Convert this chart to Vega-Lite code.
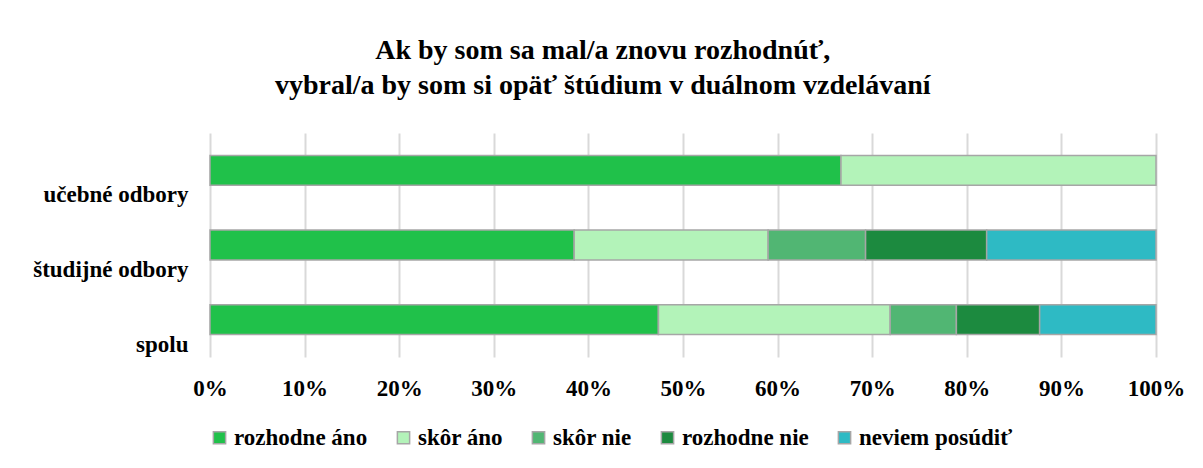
{
  "$schema": "https://vega.github.io/schema/vega-lite/v6.json",
  "width": 946,
  "height": 224,
  "autosize": {"type": "none"},
  "padding": {"left": 210, "top": 133, "right": 47, "bottom": 111},
  "background": "white",
  "title": {
    "text": ["Ak by som sa mal/a znovu rozhodnúť,", "vybral/a by som si opäť štúdium v duálnom vzdelávaní"],
    "font": "Liberation Serif",
    "fontSize": 28,
    "fontWeight": "bold",
    "lineHeight": 35,
    "color": "#000000",
    "anchor": "middle",
    "frame": "bounds",
    "offset": 33,
    "dx": -6
  },
  "data": {
    "values": [
      {"skupina": "učebné odbory", "odpoveď": "rozhodne áno", "poradie": 1, "podiel": 66.7},
      {"skupina": "učebné odbory", "odpoveď": "skôr áno", "poradie": 2, "podiel": 33.3},
      {"skupina": "študijné odbory", "odpoveď": "rozhodne áno", "poradie": 1, "podiel": 38.5},
      {"skupina": "študijné odbory", "odpoveď": "skôr áno", "poradie": 2, "podiel": 20.5},
      {"skupina": "študijné odbory", "odpoveď": "skôr nie", "poradie": 3, "podiel": 10.3},
      {"skupina": "študijné odbory", "odpoveď": "rozhodne nie", "poradie": 4, "podiel": 12.8},
      {"skupina": "študijné odbory", "odpoveď": "neviem posúdiť", "poradie": 5, "podiel": 17.9},
      {"skupina": "spolu", "odpoveď": "rozhodne áno", "poradie": 1, "podiel": 47.4},
      {"skupina": "spolu", "odpoveď": "skôr áno", "poradie": 2, "podiel": 24.5},
      {"skupina": "spolu", "odpoveď": "skôr nie", "poradie": 3, "podiel": 7.0},
      {"skupina": "spolu", "odpoveď": "rozhodne nie", "poradie": 4, "podiel": 8.8},
      {"skupina": "spolu", "odpoveď": "neviem posúdiť", "poradie": 5, "podiel": 12.3}
    ]
  },
  "mark": {"type": "bar", "stroke": "#a6a6a6", "strokeWidth": 1.5},
  "encoding": {
    "y": {
      "field": "skupina",
      "type": "nominal",
      "sort": ["učebné odbory", "študijné odbory", "spolu"],
      "scale": {"paddingInner": 0.6, "paddingOuter": 0.3},
      "axis": {
        "title": null,
        "domain": false,
        "ticks": false,
        "tickSize": 0,
        "labelPadding": 22,
        "labelOffset": 25,
        "labelBaseline": "middle",
        "labelFont": "Liberation Serif",
        "labelFontSize": 23,
        "labelFontWeight": "bold",
        "labelColor": "#000000",
        "grid": false
      }
    },
    "x": {
      "field": "podiel",
      "type": "quantitative",
      "stack": "normalize",
      "scale": {"domain": [0, 1], "nice": false},
      "axis": {
        "title": null,
        "format": ".0%",
        "values": [0, 0.1, 0.2, 0.3, 0.4, 0.5, 0.6, 0.7, 0.8, 0.9, 1],
        "domain": false,
        "ticks": false,
        "tickSize": 0,
        "labelPadding": 31,
        "labelBaseline": "middle",
        "labelFont": "Liberation Serif",
        "labelFontSize": 23,
        "labelFontWeight": "bold",
        "labelColor": "#000000",
        "labelFlush": false,
        "grid": true,
        "gridColor": "#d9d9d9",
        "gridWidth": 2
      }
    },
    "color": {
      "field": "odpoveď",
      "type": "nominal",
      "sort": ["rozhodne áno", "skôr áno", "skôr nie", "rozhodne nie", "neviem posúdiť"],
      "scale": {
        "domain": ["rozhodne áno", "skôr áno", "skôr nie", "rozhodne nie", "neviem posúdiť"],
        "range": ["#20c14a", "#b3f3b9", "#51b673", "#1c8a3f", "#2ebac4"]
      },
      "legend": {
        "title": null,
        "orient": "none",
        "direction": "horizontal",
        "columns": 5,
        "legendX": -2,
        "legendY": 293,
        "padding": 0,
        "symbolType": "square",
        "symbolSize": 150,
        "symbolStrokeColor": "#a6a6a6",
        "symbolStrokeWidth": 1.5,
        "symbolOpacity": 1,
        "labelFont": "Liberation Serif",
        "labelFontSize": 23,
        "labelFontWeight": "bold",
        "labelColor": "#000000",
        "labelOffset": 3,
        "columnPadding": 24,
        "labelLimit": 300
      }
    },
    "order": {"field": "poradie", "type": "quantitative", "sort": "ascending"},
    "tooltip": [{"field": "skupina"}, {"field": "odpoveď"}, {"field": "podiel"}]
  },
  "config": {
    "view": {"stroke": null},
    "font": "Liberation Serif"
  }
}
